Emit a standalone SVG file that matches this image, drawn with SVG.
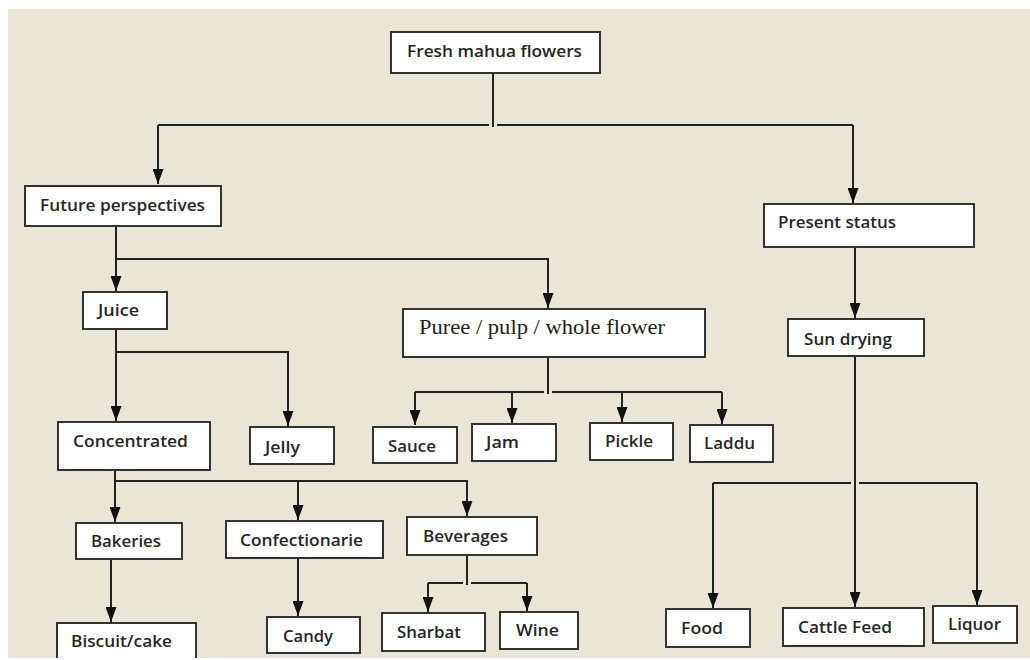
<svg xmlns="http://www.w3.org/2000/svg" width="1030" height="660" viewBox="0 0 1030 660">
<style>
.box{fill:#fff;stroke:#333;stroke-width:2}
.t{font-family:"Open Sans","Liberation Sans",sans-serif;font-size:15.5px;font-weight:600;fill:#262626}
.s{font-family:"Liberation Serif","Times New Roman",serif;font-size:21px;fill:#222}
.c{fill:none;stroke:#222;stroke-width:2}
.a{fill:none;stroke:#222;stroke-width:2;marker-end:url(#ah)}
</style>
<defs>
<marker id="ah" viewBox="0 0 15 11" refX="15" refY="5.5" markerWidth="15" markerHeight="11" markerUnits="userSpaceOnUse" orient="auto">
<path d="M0,0 L15,5.5 L0,11 z" fill="#111"/>
</marker>
</defs>
<rect x="0" y="0" width="1030" height="660" fill="#fff"/>
<rect x="8" y="9" width="1022" height="649" fill="#EAE6D7"/>

<g id="connectors">
<path class="c" d="M493,73 V127"/>
<path class="c" d="M158,125 H489 M497,125 H853"/>
<path class="a" d="M158,125 V184"/>
<path class="a" d="M853,125 V203"/>
<path class="a" d="M116,226 V291"/>
<path class="a" d="M116,259 H548 V308"/>
<path class="a" d="M116,329 V421"/>
<path class="a" d="M116,352 H288 V426"/>
<path class="c" d="M548,357 V394"/>
<path class="c" d="M415,392 H544 M552,392 H722"/>
<path class="a" d="M415,392 V425"/>
<path class="a" d="M512,392 V423"/>
<path class="a" d="M622,392 V422"/>
<path class="a" d="M722,392 V424"/>
<path class="a" d="M115,470 V522"/>
<path class="a" d="M115,481 H467 V516"/>
<path class="a" d="M298,481 V520"/>
<path class="a" d="M111,559 V622"/>
<path class="a" d="M298,558 V616"/>
<path class="c" d="M467,555 V585"/>
<path class="c" d="M463,583 H428 M471,583 H527"/>
<path class="a" d="M428,583 V612"/>
<path class="a" d="M527,583 V611"/>
<path class="a" d="M855,247 V318"/>
<path class="a" d="M855,356 V607"/>
<path class="c" d="M851,483 H713 M859,483 H977"/>
<path class="a" d="M713,483 V608"/>
<path class="a" d="M977,483 V605"/>
</g>

<g id="fresh"><rect class="box" x="391" y="32" width="209" height="41"/><text class="t" x="407" y="57" textLength="175" lengthAdjust="spacingAndGlyphs">Fresh mahua flowers</text></g>
<g id="future"><rect class="box" x="25" y="186" width="196" height="40"/><text class="t" x="40" y="211" textLength="165" lengthAdjust="spacingAndGlyphs">Future perspectives</text></g>
<g id="present"><rect class="box" x="764" y="204" width="210" height="43"/><text class="t" x="778" y="228" textLength="118" lengthAdjust="spacingAndGlyphs">Present status</text></g>
<g id="juice"><rect class="box" x="83" y="292" width="84" height="37"/><text class="t" x="98" y="316" textLength="41" lengthAdjust="spacingAndGlyphs">Juice</text></g>
<g id="puree"><rect class="box" x="403" y="309" width="302" height="48"/><text class="s" x="419" y="334" textLength="246" lengthAdjust="spacingAndGlyphs">Puree / pulp / whole flower</text></g>
<g id="sundrying"><rect class="box" x="788" y="319" width="136" height="37"/><text class="t" x="804" y="345" textLength="88" lengthAdjust="spacingAndGlyphs">Sun drying</text></g>
<g id="concentrated"><rect class="box" x="58" y="422" width="152" height="48"/><text class="t" x="73" y="447" textLength="115" lengthAdjust="spacingAndGlyphs">Concentrated</text></g>
<g id="jelly"><rect class="box" x="250" y="427" width="84" height="37"/><text class="t" x="265" y="453" textLength="35" lengthAdjust="spacingAndGlyphs">Jelly</text></g>
<g id="sauce"><rect class="box" x="373" y="427" width="84" height="36"/><text class="t" x="388" y="452" textLength="48" lengthAdjust="spacingAndGlyphs">Sauce</text></g>
<g id="jam"><rect class="box" x="472" y="424" width="84" height="37"/><text class="t" x="486" y="448" textLength="33" lengthAdjust="spacingAndGlyphs">Jam</text></g>
<g id="pickle"><rect class="box" x="590" y="423" width="83" height="37"/><text class="t" x="605" y="447" textLength="48" lengthAdjust="spacingAndGlyphs">Pickle</text></g>
<g id="laddu"><rect class="box" x="690" y="425" width="83" height="37"/><text class="t" x="704" y="449" textLength="51" lengthAdjust="spacingAndGlyphs">Laddu</text></g>
<g id="bakeries"><rect class="box" x="76" y="523" width="106" height="36"/><text class="t" x="91" y="547" textLength="70" lengthAdjust="spacingAndGlyphs">Bakeries</text></g>
<g id="confectionarie"><rect class="box" x="226" y="521" width="157" height="37"/><text class="t" x="240" y="546" textLength="123" lengthAdjust="spacingAndGlyphs">Confectionarie</text></g>
<g id="beverages"><rect class="box" x="407" y="517" width="130" height="38"/><text class="t" x="423" y="542" textLength="85" lengthAdjust="spacingAndGlyphs">Beverages</text></g>
<g id="biscuit"><rect class="box" x="57" y="623" width="139" height="50"/><text class="t" x="71" y="647" textLength="101" lengthAdjust="spacingAndGlyphs">Biscuit/cake</text></g>
<g id="candy"><rect class="box" x="267" y="617" width="93" height="36"/><text class="t" x="283" y="642" textLength="50" lengthAdjust="spacingAndGlyphs">Candy</text></g>
<g id="sharbat"><rect class="box" x="382" y="613" width="103" height="38"/><text class="t" x="397" y="638" textLength="64" lengthAdjust="spacingAndGlyphs">Sharbat</text></g>
<g id="wine"><rect class="box" x="500" y="612" width="78" height="37"/><text class="t" x="516" y="636" textLength="43" lengthAdjust="spacingAndGlyphs">Wine</text></g>
<g id="food"><rect class="box" x="666" y="609" width="84" height="38"/><text class="t" x="681" y="634" textLength="42" lengthAdjust="spacingAndGlyphs">Food</text></g>
<g id="cattle"><rect class="box" x="783" y="608" width="141" height="38"/><text class="t" x="798" y="633" textLength="94" lengthAdjust="spacingAndGlyphs">Cattle Feed</text></g>
<g id="liquor"><rect class="box" x="933" y="606" width="84" height="37"/><text class="t" x="948" y="630" textLength="53" lengthAdjust="spacingAndGlyphs">Liquor</text></g>
<rect x="0" y="658" width="1030" height="2" fill="#fff"/>
</svg>
